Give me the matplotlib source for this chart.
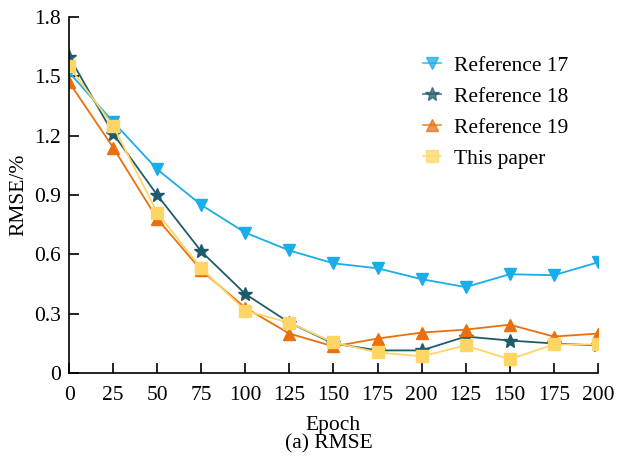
import matplotlib
matplotlib.use("Agg")
from matplotlib import pyplot as plt

epoch_labels = ["0", "25", "50", "75", "100", "125", "150", "175", "200",
                "125", "150", "175", "200"]
ref17 = [1.52, 1.27, 1.03, 0.85, 0.71, 0.62, 0.555, 0.53, 0.475, 0.435, 0.50, 0.495, 0.56]
ref18 = [1.60, 1.21, 0.90, 0.615, 0.40, 0.255, 0.15, 0.115, 0.115, 0.185, 0.165, 0.15, 0.14]
ref19 = [1.47, 1.14, 0.78, 0.52, 0.33, 0.20, 0.135, 0.175, 0.205, 0.22, 0.245, 0.185, 0.20]
this_paper = [1.55, 1.25, 0.81, 0.53, 0.315, 0.255, 0.155, 0.105, 0.085, 0.14, 0.07, 0.145, 0.145]

plt.rcParams["font.family"] = ["Liberation Serif", "DejaVu Serif"]
plt.rcParams["font.size"] = 15.5

fig = plt.figure(figsize=(6.17, 4.59), dpi=100)
ax = fig.add_axes([0.112, 0.187, 0.857, 0.776])

x = list(range(len(epoch_labels)))
ax.plot(x, ref17, color="#19ADE9", marker="v", markersize=9, lw=1.3, label="Reference 17")
ax.plot(x, ref18, color="#205B6B", marker="*", markersize=10, lw=1.3, label="Reference 18")
ax.plot(x, ref19, color="#EA700D", marker="^", markersize=9, lw=1.3, label="Reference 19")
ax.plot(x, this_paper, color="#FFD666", marker="s", markersize=9, lw=1.3, label="This paper")

ax.set_xlim(0, 12)
ax.set_ylim(0, 1.8)
ax.set_xticks(x)
ax.set_xticklabels(epoch_labels)
ax.set_yticks([0, 0.3, 0.6, 0.9, 1.2, 1.5, 1.8])
ax.set_yticklabels(["0", "0.3", "0.6", "0.9", "1.2", "1.5", "1.8"])
ax.tick_params(direction="in", length=7, width=1.2, pad=6)
ax.tick_params(axis="x", pad=9)
ax.spines["top"].set_visible(False)
ax.spines["right"].set_visible(False)
ax.spines["left"].set_linewidth(1.2)
ax.spines["bottom"].set_linewidth(1.2)
ax.set_xlabel("Epoch", labelpad=8)
ax.set_ylabel("RMSE/%")

leg = ax.legend(loc="upper right", bbox_to_anchor=(0.98, 0.945), frameon=False,
                handlelength=0.8, handletextpad=0.6, labelspacing=0.5)
for h in leg.legend_handles:
    h.set_alpha(0.75)

fig.text(0.533, 0.032, "(a) RMSE", ha="center", va="center", fontsize=15.5)

fig.savefig("out.png", dpi=100)
